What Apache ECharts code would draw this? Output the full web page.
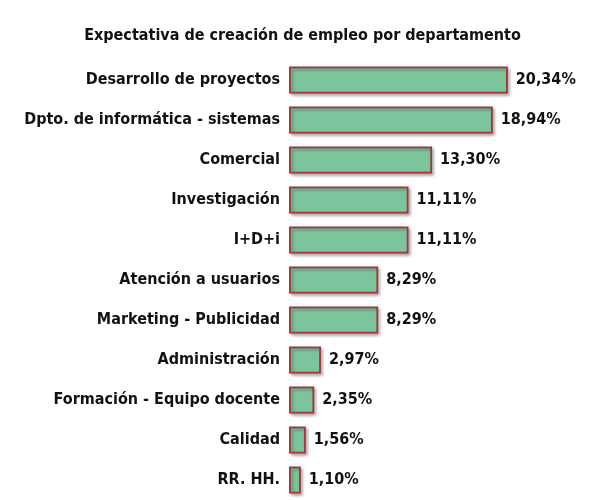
<!DOCTYPE html>
<html>
<head>
<meta charset="utf-8">
<script src="https://cdn.jsdelivr.net/npm/echarts@6/dist/echarts.min.js"></script>
<style>
  html, body { margin: 0; padding: 0; background: #fff; }
  #chart { width: 605px; height: 500px; }
</style>
</head>
<body>
<div id="chart"></div>
<script>
var departamentos = [
    'Desarrollo de proyectos',
    'Dpto. de informática - sistemas',
    'Comercial',
    'Investigación',
    'I+D+i',
    'Atención a usuarios',
    'Marketing - Publicidad',
    'Administración',
    'Formación - Equipo docente',
    'Calidad',
    'RR. HH.'
];
var porcentajes = [20.34, 18.94, 13.30, 11.11, 11.11, 8.29, 8.29, 2.97, 2.35, 1.56, 1.10];

var fuente = '"Liberation Sans Narrow", "DejaVu Sans Condensed", sans-serif';

var myChart = echarts.init(document.getElementById('chart'));

var option = {
    animation: false,
    title: {
        text: 'Expectativa de creación de empleo por departamento',
        left: 'center',
        top: 23,
        textStyle: {
            fontFamily: fuente,
            fontWeight: 'bold',
            fontSize: 16,
            color: '#111'
        }
    },
    grid: {
        left: 289,
        top: 60,
        width: 269,
        height: 440
    },
    xAxis: {
        type: 'value',
        min: 0,
        max: 25,
        show: false
    },
    yAxis: {
        type: 'category',
        inverse: true,
        data: departamentos,
        axisLine: { show: false },
        axisTick: { show: false },
        axisLabel: {
            margin: 9,
            fontFamily: fuente,
            fontWeight: 'bold',
            fontSize: 16,
            color: '#111'
        }
    },
    series: [
        {
            type: 'bar',
            data: porcentajes,
            barWidth: 27,
            itemStyle: {
                color: '#7cc49b',
                borderColor: '#a8323a',
                borderWidth: 1.8,
                shadowColor: 'rgba(0,0,0,0.3)',
                shadowBlur: 3,
                shadowOffsetX: 2,
                shadowOffsetY: 2
            },
            label: {
                show: true,
                position: 'right',
                distance: 8,
                fontFamily: fuente,
                fontWeight: 'bold',
                fontSize: 16,
                color: '#111',
                formatter: function (p) {
                    return p.value.toFixed(2).replace('.', ',') + '%';
                }
            }
        }
    ]
};

option && myChart.setOption(option);
</script>
</body>
</html>
